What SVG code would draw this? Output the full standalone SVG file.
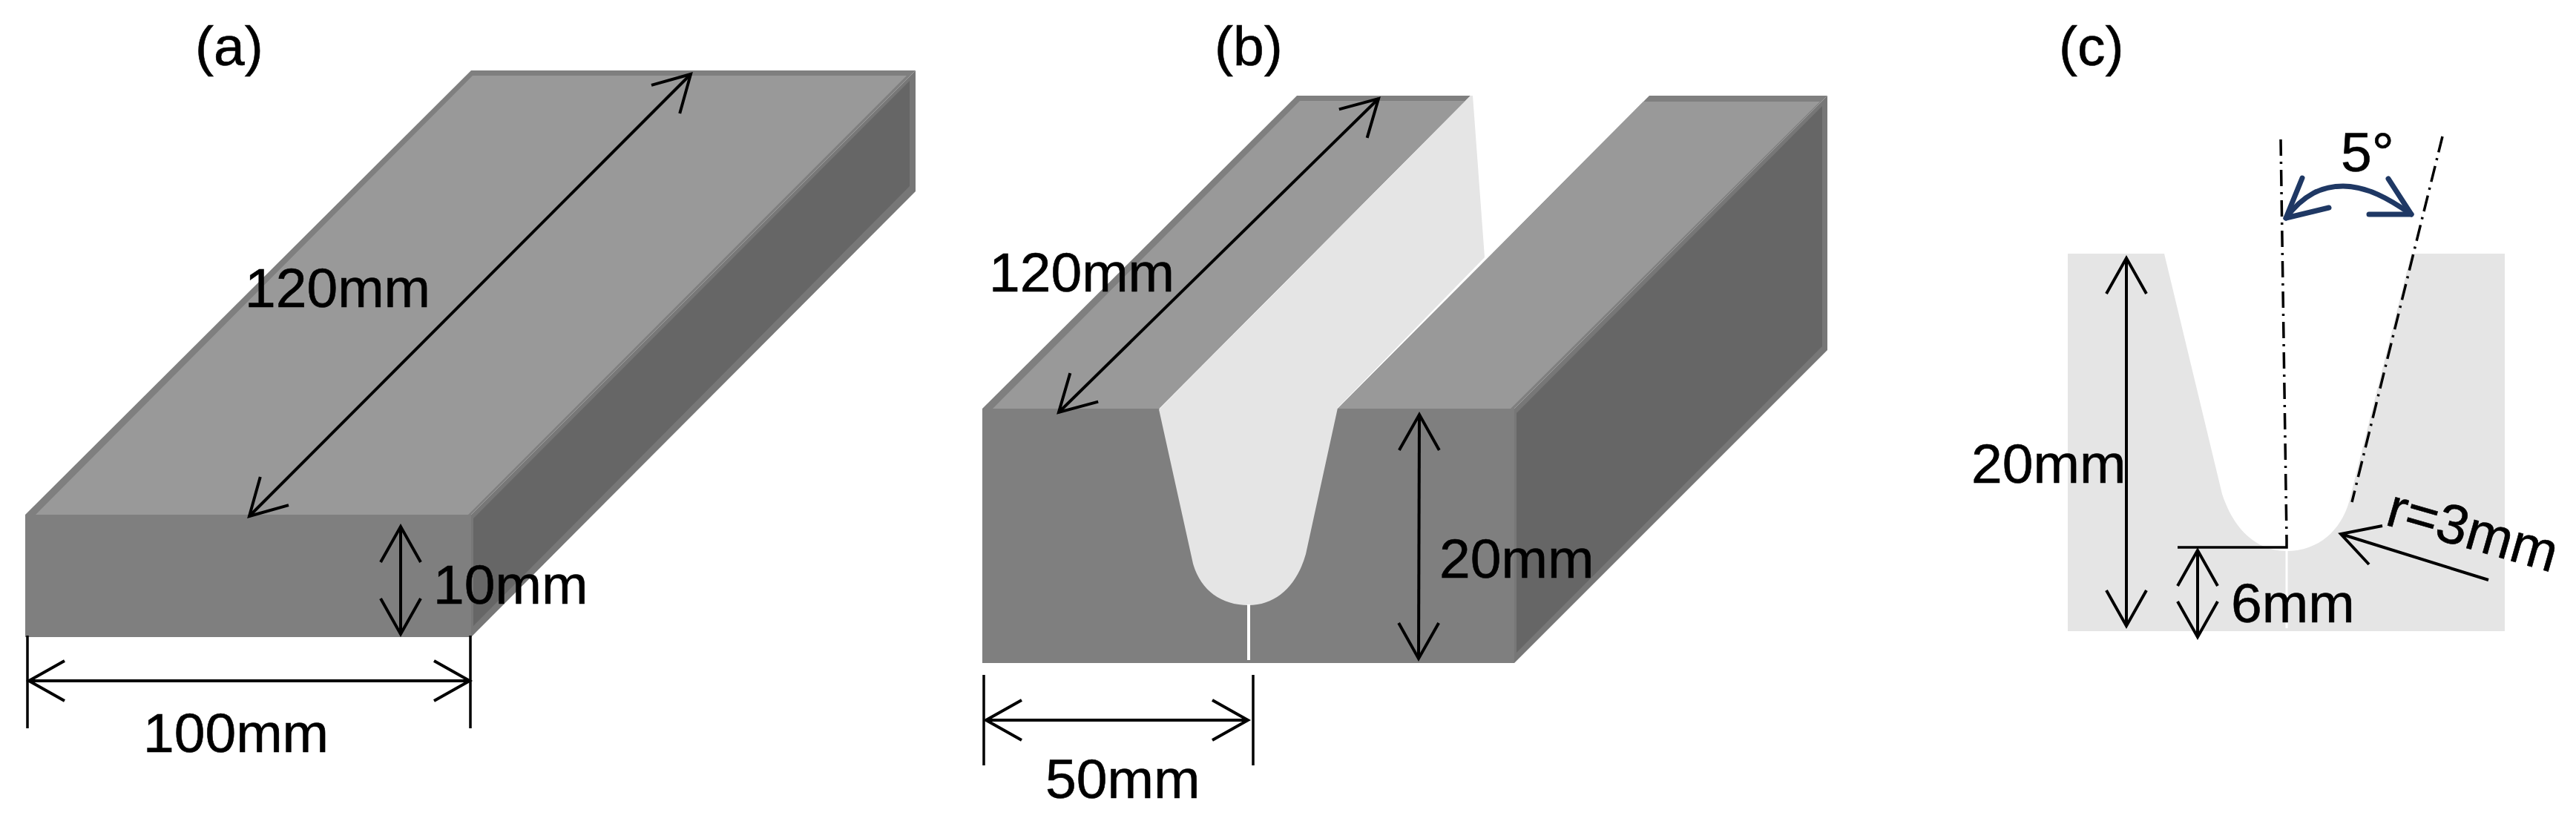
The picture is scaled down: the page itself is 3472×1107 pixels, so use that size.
<svg xmlns="http://www.w3.org/2000/svg" width="3472" height="1107" viewBox="0 0 3472 1107">
<style>
text{font-family:"Liberation Sans",Arial,sans-serif;font-size:75px;fill:#000;stroke:#000;stroke-width:.6}
.dim{fill:none;stroke:#000;stroke-width:4;marker-start:url(#a);marker-end:url(#a)}
.tick{fill:none;stroke:#000;stroke-width:3.5}
.dash{fill:none;stroke:#000;stroke-width:3.5;stroke-dasharray:22 8 3 8}
.edge{fill:#7f7f7f}.top{fill:#999}.side{fill:#666}.sideedge{fill:#777}.groove{fill:#e5e5e5}
.blue{fill:none;stroke:#1f3864;stroke-width:7;stroke-linecap:round;stroke-linejoin:round}
</style>
<defs>
<marker id="a" markerUnits="userSpaceOnUse" markerWidth="60" markerHeight="70" viewBox="-55 -35 60 70" refX="0" refY="0" orient="auto-start-reverse">
<path d="M-48,-27 L0,0 L-48,27" fill="none" stroke="#000" stroke-width="4"/>
</marker>
</defs>
<rect width="3472" height="1107" fill="#fff"/>
<g id="block-a">
<polygon class="sideedge" points="635,694 1234,95 1234,258 635,859"/>
<polygon class="edge" points="34,694 635,95 1234,95 635,694"/>
<polygon class="top" points="48,694 637,102 1222,102 631,694"/>
<polygon class="side" points="638,699 1226,109 1226,251 638,844"/>
<rect class="edge" x="34" y="694" width="601" height="165"/>
</g>
<g id="block-b">
<polygon class="sideedge" points="2041,551 2463,129 2463,472 2041,894"/>
<polygon class="edge" points="1324,551 1748,129 1982,129 1562,551"/>
<polygon class="edge" points="1803,551 2223,129 2463,129 2041,551"/>
<polygon class="top" points="1338,551 1752,136 1975,136 1562,551"/>
<polygon class="top" points="1803,551 2215,137 2453,137 2036,551"/>
<polygon class="side" points="2044,557 2456,143 2456,467 2044,880"/>
<rect class="edge" x="1324" y="551" width="717" height="343"/>
<path class="groove" d="M1562,552 L1982,129 L1985,129 L2001,347 L1803,550 L1760,747 C1748,790 1720,816 1683,816 C1645,816 1618,795 1608,760 Z"/>
<line x1="1683" y1="815" x2="1683" y2="890" stroke="#fff" stroke-width="4"/>
</g>
<g id="section-c">
<path class="groove" d="M2787,342 H2917 L2995,666 C3010,712 3040,743 3082,743 C3125,743 3155,715 3166,677 L3250,342 H3376 V851 H2787 Z"/>
<line x1="3082" y1="743" x2="3082" y2="847" stroke="#fff" stroke-width="3"/>
</g>
<g id="connectors">
<path class="dim" d="M931,100 L336,696"/>
<path class="dim" d="M540,710 V855"/>
<path class="dim" d="M39,918 H633"/>
<path class="tick" d="M37,857 V982 M634,857 V982"/>
<path class="dim" d="M1858,133 L1427,556"/>
<path class="dim" d="M1913,559 L1912,888"/>
<path class="dim" d="M1329,971 H1682"/>
<path class="tick" d="M1326,910 V1032 M1689,910 V1032"/>
<path class="dash" d="M3074,188 L3082,728"/>
<path class="dash" d="M3292,184 L3170,677"/>
<path class="tick" d="M2935,738 H3082 V728"/>
<path class="blue" d="M3081,294 C3105,262 3130,251 3158,251 C3190,251 3220,268 3250,289"/>
<path class="blue" d="M3103,240 L3081,294 L3139,280 M3219,241 L3250,289 L3193,289"/>
<path class="dim" d="M2866,348 V844"/>
<path class="dim" d="M2962,742 V859"/>
<path class="tick" style="stroke-width:4" d="M3354,782 L3155,720 M3211,709 L3155,720 L3193,761"/>
</g>
<g id="labels">
<text x="263" y="88">(a)</text>
<text x="330" y="414">120mm</text>
<text x="584" y="814">10mm</text>
<text x="193" y="1014">100mm</text>
<text x="1637" y="88">(b)</text>
<text x="1333" y="393">120mm</text>
<text x="1940" y="779">20mm</text>
<text x="1409" y="1076">50mm</text>
<text x="2775" y="88">(c)</text>
<text x="3155" y="231">5°</text>
<text x="2657" y="651">20mm</text>
<text x="3007" y="839">6mm</text>
<text transform="translate(3213,707) rotate(16)">r=3mm</text>
</g>
</svg>
